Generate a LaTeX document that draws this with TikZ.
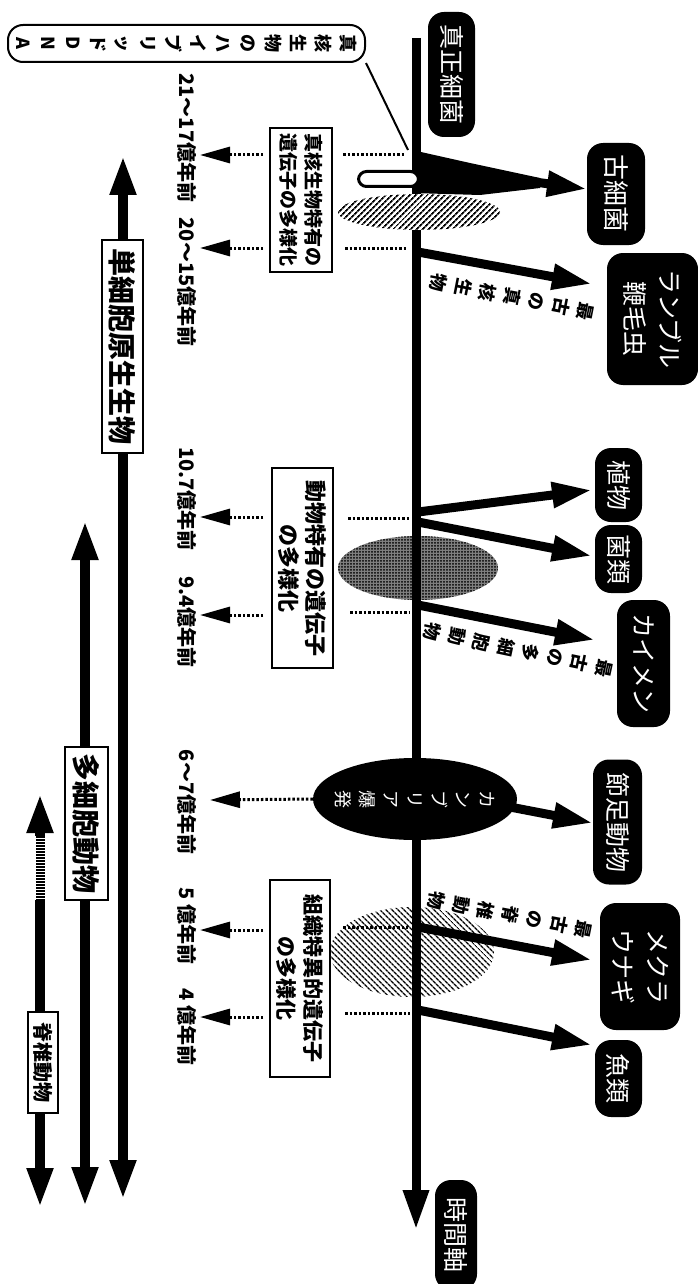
\documentclass[tikz,border=0pt]{standalone}
\usepackage{fontspec}
\setmainfont{Noto Sans CJK JP}
\usetikzlibrary{arrows.meta,patterns.meta,shapes.geometric}
\tikzset{
 darkbox/.style={rotate=-90, fill=black, text=white, rounded corners=16pt, inner sep=0pt, align=center, font=\fontsize{25}{35}\selectfont},
 outbox/.style={rotate=-90, draw, line width=2.5pt, fill=white, inner sep=0pt, align=center},
 datelbl/.style={rotate=-90, inner sep=0pt, font=\bfseries\fontsize{20}{24}\selectfont},
 dotline/.style={line width=3pt, dash pattern=on 2.5pt off 2pt},
 datearrow/.style={dotline, -{Triangle[length=30pt,width=16pt]}},
 branch/.style={line width=9pt, -{Triangle[length=40pt,width=24pt]}},
 barline/.style={line width=10pt},
 barbox/.style={rotate=-90, draw, line width=2.5pt, fill=white, inner sep=0pt, font=\bfseries\fontsize{28}{30}\selectfont},
 along/.style={inner sep=0pt, align=center, font=\bfseries\fontsize{18}{25}\selectfont},
}
\begin{document}
\begin{tikzpicture}[x=1pt,y=-1pt]
\useasboundingbox (0,0) rectangle (698,1284);

% ellipses below the trunk
\fill[black!50] (418,568) ellipse [x radius=80pt, y radius=32pt];
\fill[pattern={Dots[distance=3pt,radius=1pt]}] (418,568) ellipse [x radius=80pt, y radius=32pt];
\fill[pattern={Lines[angle=-45,distance=4pt,line width=1.6pt]}] (412,952) ellipse [x radius=82pt, y radius=45pt];

% trunk (time axis)
\coordinate (ttop) at (416,38);
\coordinate (tend) at (416,1230);
\draw[line width=9pt,-{Triangle[length=40pt,width=24pt]}] (ttop) -- (tend);

% hatched ellipse over trunk
\fill[white] (419,212) ellipse [x radius=81pt, y radius=18pt];
\fill[pattern={Lines[angle=45,distance=4pt,line width=1.8pt]}] (419,212) ellipse [x radius=81pt, y radius=18pt];

% right-hand boxes
\node[darkbox, minimum width=125pt, minimum height=47pt] (shinsei) at (451.5,74.5) {真正細菌};
\node[darkbox, minimum width=102pt, minimum height=58pt, font=\fontsize{26}{30}\selectfont] (kosaikin) at (616,194) {古細菌};
\node[darkbox, minimum width=132pt, minimum height=91pt] (lambl) at (652.5,319) {ランブル\\鞭毛虫};
\node[darkbox, minimum width=74pt, minimum height=47pt] (plant) at (618.5,485) {植物};
\node[darkbox, minimum width=68pt, minimum height=47pt] (fungi) at (618.5,559) {菌類};
\node[darkbox, minimum width=127pt, minimum height=53pt] (kaimen) at (643.5,663.5) {カイメン};
\node[darkbox, minimum width=125pt, minimum height=49pt] (sessoku) at (617.5,822) {節足動物};
\node[darkbox, minimum width=127pt, minimum height=80pt] (mekura) at (640,966.5) {メクラ\\ウナギ};
\node[darkbox, minimum width=77pt, minimum height=47pt] (gyorui) at (618.5,1078.5) {魚類};
\node[darkbox, minimum width=110pt, minimum height=42pt] (jikan) at (456,1235) {時間軸};

% branch to archaea
\fill (412,150) -- (470,163) -- (540,178) -- (540,188) -- (480,195) -- (412,193) -- cycle;
\coordinate (kS) at (430,168);
\coordinate (kE) at (587,189);
\draw[branch] (kS) -- (kE);
\node[draw, line width=3pt, fill=white, rounded corners=8pt, minimum width=60pt, minimum height=15pt, inner sep=0pt] (hbar) at (388.5,179) {};

% hybrid DNA label
\node[rotate=-90, draw, line width=2pt, fill=white, rounded corners=15pt, minimum width=37pt, minimum height=357pt, inner sep=0pt, align=center, font=\bfseries\fontsize{18}{25}\selectfont] (hyb) at (186.5,43.5) {真\\核\\生\\物\\の\\ハ\\イ\\ブ\\リ\\ッ\\ド\\D\\N\\A};
\coordinate (hj) at (408,150);
\draw[line width=2pt] (hyb.north east) -- (hj);

% other branches
\coordinate (lS) at (418,252); \coordinate (lE) at (592,284);
\draw[branch] (lS) -- (lE);
\coordinate (pS) at (418,512); \coordinate (pE) at (592,490);
\draw[branch] (pS) -- (pE);
\coordinate (fS) at (418,522); \coordinate (fE) at (592,556);
\draw[branch] (fS) -- (fE);
\coordinate (kaS) at (418,605); \coordinate (kaE) at (595,640);
\draw[branch] (kaS) -- (kaE);
\coordinate (mS) at (418,927); \coordinate (mE) at (592,960);
\draw[branch] (mS) -- (mE);
\coordinate (gS) at (418,1010); \coordinate (gE) at (592,1045);
\draw[branch] (gS) -- (gE);

% Cambrian explosion
\node[ellipse, fill=black, minimum width=204pt, minimum height=82pt, inner sep=0pt] (camb) at (415,799) {};
\node[rotate=-90, text=white, inner sep=0pt, align=center, font=\fontsize{18}{24}\selectfont] (cambtxt) at (camb.center) {カ\\ン\\ブ\\リ\\ア\\爆\\発};
\coordinate (sS) at (510,807); \coordinate (sE) at (593,823);
\draw[branch] (sS) -- (sE);

% labels along branches
\node[along, rotate=-101] (lblE) at (512,297) {最\\古\\の\\真\\核\\生\\物};
\node[along, rotate=-102] (lblM) at (518,650) {最\\古\\の\\多\\細\\胞\\動\\物};
\node[along, rotate=-101] (lblV) at (510,915) {最\\古\\の\\脊\\椎\\動\\物};

% gene diversification boxes
\node[outbox, minimum width=144pt, minimum height=62pt, font=\bfseries\fontsize{19}{25}\selectfont] (box1) at (301,200) {真核生物特有の\\遺伝子の多様化};
\node[outbox, minimum width=200pt, minimum height=61pt, font=\bfseries\fontsize{22}{27}\selectfont] (box2) at (302.5,568) {動物特有の遺伝子\\の多様化};
\node[outbox, minimum width=197pt, minimum height=60pt, font=\bfseries\fontsize{21}{27}\selectfont] (box3) at (300,978.5) {組織特異的遺伝子\\の多様化};

% dotted lines box -> trunk
\coordinate (d1a) at (343,155); \coordinate (d1b) at (405,155);
\coordinate (d2a) at (345,248); \coordinate (d2b) at (407,248);
\coordinate (d3a) at (348,518); \coordinate (d3b) at (410,518);
\coordinate (d4a) at (350,612); \coordinate (d4b) at (410,612);
\coordinate (d5a) at (343,927); \coordinate (d5b) at (408,927);
\coordinate (d6a) at (345,1013); \coordinate (d6b) at (410,1013);
\draw[dotline] (d1a) -- (d1b);
\draw[dotline] (d2a) -- (d2b);
\draw[dotline] (d3a) -- (d3b);
\draw[dotline] (d4a) -- (d4b);
\draw[dotline] (d5a) -- (d5b);
\draw[dotline] (d6a) -- (d6b);

% date arrows
\coordinate (a1s) at (263,155); \coordinate (a1e) at (200,155);
\coordinate (a2s) at (263,248); \coordinate (a2e) at (200,248);
\coordinate (a3s) at (263,517); \coordinate (a3e) at (200,517);
\coordinate (a4s) at (263,615); \coordinate (a4e) at (200,615);
\coordinate (a5e) at (210,800);
\coordinate (a6s) at (263,930); \coordinate (a6e) at (200,930);
\coordinate (a7s) at (263,1017); \coordinate (a7e) at (200,1017);
\draw[datearrow] (a1s) -- (a1e);
\draw[datearrow] (a2s) -- (a2e);
\draw[datearrow] (a3s) -- (a3e);
\draw[datearrow] (a4s) -- (a4e);
\draw[datearrow] (camb.west) -- (a5e);
\draw[datearrow] (a6s) -- (a6e);
\draw[datearrow] (a7s) -- (a7e);

% date labels
\node[datelbl] (t1) at (187,138) {21～17億年前};
\node[datelbl] (t2) at (187,282) {20～15億年前};
\node[datelbl] (t3) at (187,499) {10.7億年前};
\node[datelbl] (t4) at (187,622) {9.4億年前};
\node[datelbl] (t5) at (187,802) {6～7億年前};
\node[datelbl] (t6) at (187,926) {5 億年前};
\node[datelbl] (t7) at (187,1027) {4 億年前};

% duration bars
\coordinate (b1t) at (123,155); \coordinate (b1b) at (123,1200);
\draw[barline, {Triangle[length=40pt,width=24pt]}-{Triangle[length=40pt,width=24pt]}] (b1t) -- (b1b);
\node[barbox, minimum width=213pt, minimum height=41pt] (b1box) at (122.5,346.5) {単細胞原生生物};

\coordinate (b2t) at (85,520); \coordinate (b2b) at (85,1207);
\draw[barline, {Triangle[length=40pt,width=24pt]}-{Triangle[length=40pt,width=24pt]}] (b2t) -- (b2b);
\node[barbox, minimum width=153pt, minimum height=43pt] (b2box) at (86.5,823.5) {多細胞動物};

\coordinate (b3t) at (40,793); \coordinate (b3d1) at (40,836);
\coordinate (b3d2) at (40,900); \coordinate (b3b) at (40,1208);
\draw[barline, -{Triangle[length=40pt,width=24pt]}] (b3d1) -- (b3t);
\draw[line width=9pt, dash pattern=on 1.5pt off 1.5pt] (b3d1) -- (b3d2);
\draw[barline, -{Triangle[length=40pt,width=24pt]}] (b3d2) -- (b3b);
\node[barbox, minimum width=101pt, minimum height=30pt, font=\bfseries\fontsize{20}{22}\selectfont] (b3box) at (43,1062.5) {脊椎動物};
\end{tikzpicture}
\end{document}
